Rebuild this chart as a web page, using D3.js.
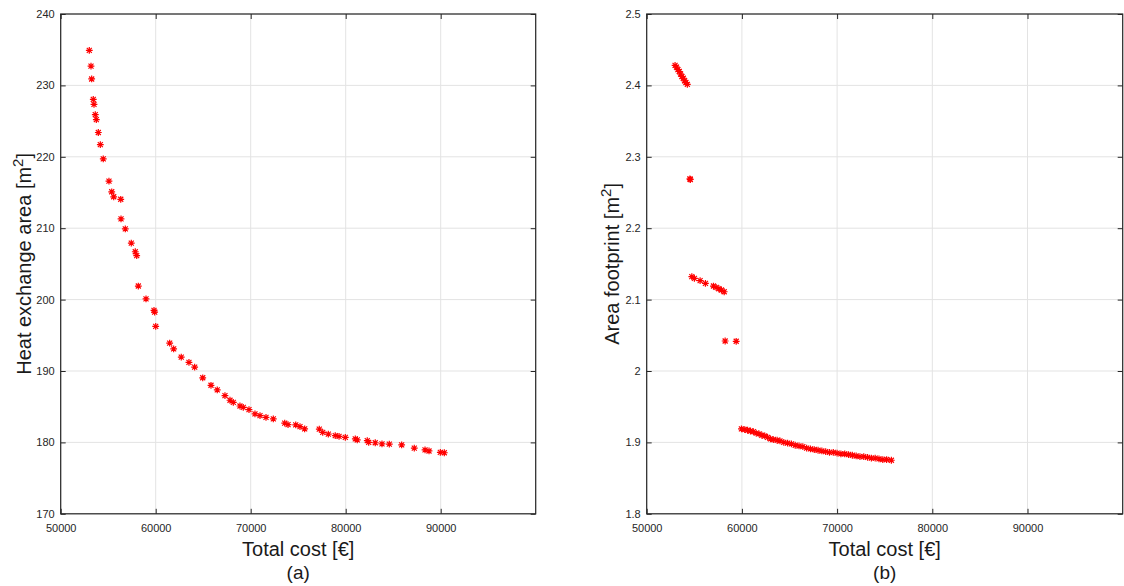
<!DOCTYPE html>
<html><head><meta charset="utf-8">
<script src="https://cdn.jsdelivr.net/npm/d3@7"></script>
<style>
body{margin:0;background:#fff}
svg{display:block}
text{font-family:"Liberation Sans",Arial,Helvetica,sans-serif}
</style>
</head><body>
<svg id="c" width="1124" height="586"></svg>
<script>
// ---------- data ----------
const xTicks = [50000, 60000, 70000, 80000, 90000];
const yTicksA = [170, 180, 190, 200, 210, 220, 230, 240];
const yTicksB = [1.8, 1.9, 2.0, 2.1, 2.2, 2.3, 2.4, 2.5];

// (a) Heat exchange area vs total cost
const costA = [53010,53190,53260,53430,53505,53640,53750,53960,54170,54480,
  55080,55370,55580,56320,56350,56800,57430,57850,58000,58170,
  58980,59820,59890,60000,61470,61890,62690,63500,64100,64950,
  65820,66480,67290,67820,68170,68870,69220,69820,70450,70980,
  71610,72380,73580,73930,74740,75190,75680,77220,77580,78170,
  78900,79300,79960,81010,81220,82270,82420,83110,83820,84590,
  85890,87220,88350,88770,89960,90380];
const areaA = [234.9,232.7,230.9,228.05,227.35,225.9,225.2,223.4,221.7,219.7,
  216.6,215.1,214.4,214.05,211.3,209.9,207.9,206.7,206.15,201.9,
  200.1,198.5,198.25,196.25,193.9,193.1,191.95,191.2,190.55,189.05,
  188.0,187.35,186.55,185.9,185.6,185.1,184.9,184.6,184.0,183.75,
  183.5,183.3,182.7,182.5,182.45,182.2,181.9,181.85,181.4,181.15,
  180.95,180.85,180.7,180.5,180.35,180.25,180.0,179.95,179.8,179.75,
  179.65,179.2,178.95,178.8,178.6,178.55];

// (b) Area footprint vs total cost
const costB = [52980,53130,53280,53420,53560,53700,53840,53980,54120,54270,
  54540,54580,
  54740,55010,55610,56170,57010,57290,57580,57850,58140,
  58240,59400,
  59950,60300,60600,60900,61200,61500,61800,62100,62400,62700,
  63000,63300,63700,64000,64400,64800,65200,65600,66000,66400,
  66800,67200,67600,68000,68400,68800,69200,69600,70000,70400,
  70800,71200,71600,72000,72400,72800,73200,73600,74000,74400,
  74800,75200,75700];
const footB = [2.428,2.4255,2.422,2.4195,2.416,2.4125,2.410,2.4065,2.404,2.4015,
  2.269,2.2682,
  2.1321,2.1298,2.1265,2.1228,2.119,2.1171,2.1152,2.1134,2.111,
  2.042,2.0416,
  1.919,1.918,1.917,1.916,1.915,1.913,1.912,1.910,1.909,1.907,
  1.905,1.904,1.903,1.902,1.900,1.899,1.898,1.896,1.895,1.894,
  1.892,1.891,1.890,1.889,1.888,1.887,1.886,1.886,1.885,1.884,
  1.884,1.883,1.882,1.881,1.880,1.880,1.879,1.878,1.878,1.877,
  1.876,1.876,1.875];

// ---------- drawing ----------
const svg = d3.select("#c");
const AX = "#262626", GRID = "#e3e3e3", RED = "#ff0000";

function star(g, cx, cy) {
  const r = 3.4, d = 2.5;
  const p = `M${cx-r},${cy}H${cx+r}M${cx},${cy-r}V${cy+r}` +
            `M${cx-d},${cy-d}L${cx+d},${cy+d}M${cx-d},${cy+d}L${cx+d},${cy-d}`;
  g.append("path").attr("d", p).attr("stroke", RED).attr("stroke-width", 1.2).attr("fill", "none");
}

function panel(opt) {
  const x = d3.scaleLinear().domain([50000, 100000]).range([opt.x0, opt.x1]);
  const y = d3.scaleLinear().domain(opt.yDom).range([513.8, 14]);
  const g = svg.append("g");

  // grid
  g.selectAll(".gx").data(xTicks.concat([100000])).enter().append("line")
    .attr("x1", d => x(d)).attr("x2", d => x(d)).attr("y1", y.range()[0]).attr("y2", y.range()[1])
    .attr("stroke", GRID).attr("stroke-width", 1);
  g.selectAll(".gy").data(opt.yTicks).enter().append("line")
    .attr("y1", d => y(d)).attr("y2", d => y(d)).attr("x1", opt.x0).attr("x2", opt.x1)
    .attr("stroke", GRID).attr("stroke-width", 1);

  // axes (inward ticks)
  const bottom = g.append("g").attr("transform", `translate(0,${y.range()[0]})`)
    .call(d3.axisBottom(x).tickValues(xTicks).tickSize(-5).tickPadding(10).tickFormat(d3.format("d")));
  const top = g.append("g").attr("transform", `translate(0,${y.range()[1]})`)
    .call(d3.axisTop(x).tickValues(xTicks).tickSize(-5).tickFormat(""));
  const left = g.append("g").attr("transform", `translate(${opt.x0},0)`)
    .call(d3.axisLeft(y).tickValues(opt.yTicks).tickSize(-5).tickPadding(6).tickFormat(opt.fmt));
  const right = g.append("g").attr("transform", `translate(${opt.x1},0)`)
    .call(d3.axisRight(y).tickValues(opt.yTicks).tickSize(-5).tickFormat(""));
  [bottom, top, left, right].forEach(a => {
    a.select(".domain").remove();
    a.selectAll("line").attr("stroke", AX);
    a.selectAll("text").attr("fill", AX).style("font-size", "11px")
      .style("font-family", '"Liberation Sans",Arial,sans-serif');
  });

  // box
  g.append("rect").attr("x", opt.x0).attr("y", y.range()[1])
    .attr("width", opt.x1 - opt.x0).attr("height", y.range()[0] - y.range()[1])
    .attr("fill", "none").attr("stroke", AX).attr("stroke-width", 1.2);

  // markers
  const mg = g.append("g");
  opt.xs.forEach((v, i) => star(mg, x(v), y(opt.ys[i])));

  // labels
  const cx = (opt.x0 + opt.x1) / 2;
  g.append("text").attr("x", cx).attr("y", 556).attr("text-anchor", "middle")
    .style("font-size", "20px").attr("fill", "#1a1a1a").text("Total cost [€]");
  g.append("text").attr("x", cx).attr("y", 579).attr("text-anchor", "middle")
    .style("font-size", "19px").attr("fill", "#1a1a1a").text(opt.tag);
  const yl = g.append("text")
    .attr("transform", `translate(${opt.ylx},${(y.range()[0] + y.range()[1]) / 2}) rotate(-90)`)
    .attr("text-anchor", "middle").style("font-size", "20px").attr("fill", "#1a1a1a");
  yl.append("tspan").text(opt.ylabel + " [m");
  yl.append("tspan").attr("dy", -8).style("font-size", "15px").text("2");
  yl.append("tspan").attr("dy", 8).text("]");
}

panel({x0: 60.7, x1: 535.7, yDom: [170, 240], yTicks: yTicksA, fmt: d3.format("d"),
  xs: costA, ys: areaA, tag: "(a)", ylabel: "Heat exchange area", ylx: 31});
panel({x0: 646.7, x1: 1122.7, yDom: [1.8, 2.5], yTicks: yTicksB, fmt: d => String(+d.toFixed(1)),
  xs: costB, ys: footB, tag: "(b)", ylabel: "Area footprint", ylx: 619});
</script>
</body></html>
